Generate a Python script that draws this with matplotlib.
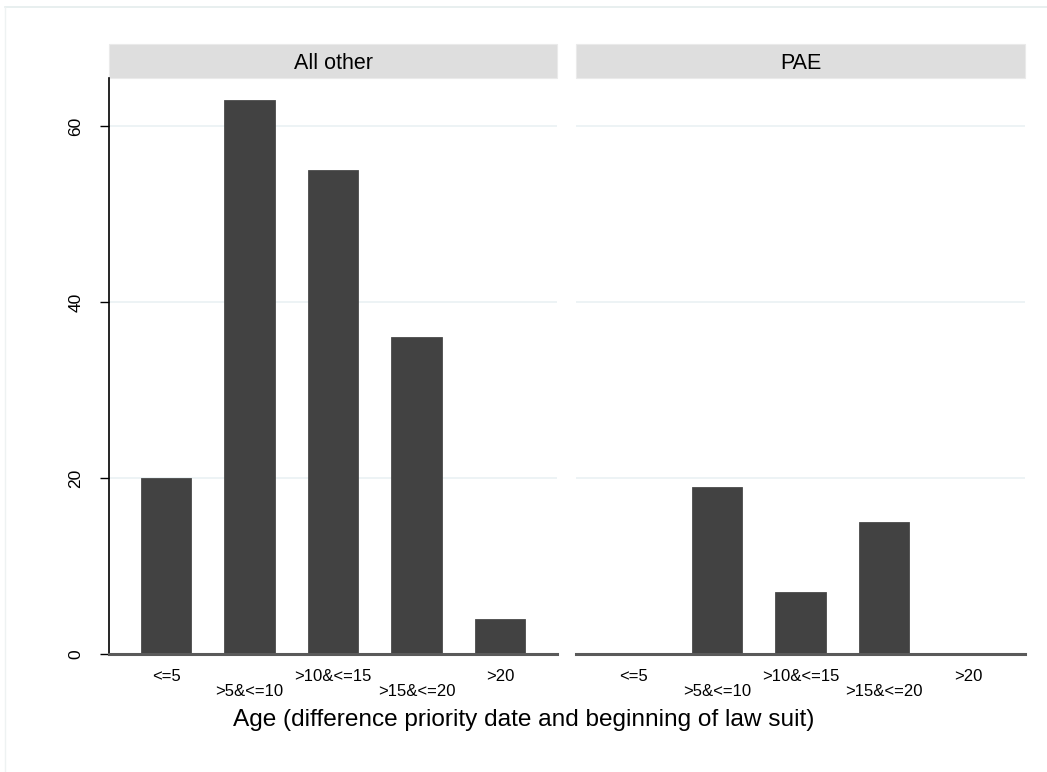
import matplotlib
matplotlib.use("Agg")
import matplotlib.pyplot as plt
from matplotlib.patches import Rectangle
from matplotlib.lines import Line2D

plt.rcParams['font.family'] = ['Liberation Sans', 'DejaVu Sans']

categories = ["<=5", ">5&<=10", ">10&<=15", ">15&<=20", ">20"]
panels = ["All other", "PAE"]
values_all_other = [20, 63, 55, 36, 4]
values_pae = [0, 19, 7, 15, 0]
yticks = [0, 20, 40, 60]
xlabel = "Age (difference priority date and beginning of law suit)"

W, H = 1047, 772
fig = plt.figure(figsize=(W / 100, H / 100), dpi=100)
fig.patch.set_facecolor("white")

def fx(px):
    return px / W

def fy(py):
    return 1 - py / H

top_px, bot_px = 78, 654
ax_boxes = [(109, 557), (576, 1025)]
ymax = (bot_px - top_px) / 8.8

# outer frame lines
fig.add_artist(Line2D([fx(5), fx(1047)], [fy(7), fy(7)], color="#e4ecec", lw=1.2))
fig.add_artist(Line2D([fx(5), fx(5)], [fy(7), fy(772)], color="#eef2f2", lw=1.0))

labels_staggered = [("\n" + c) if i % 2 == 1 else c for i, c in enumerate(categories)]
xs = list(range(len(categories)))

for k, (name, vals) in enumerate(zip(panels, [values_all_other, values_pae])):
    l, r = ax_boxes[k]
    ax = fig.add_axes([fx(l), fy(bot_px), (r - l) / W, (bot_px - top_px) / H])
    ax.set_xlim(-0.683, 4.683)
    ax.set_ylim(0, ymax)
    for y in yticks[1:]:
        ax.axhline(y, color="#eaf1f3", lw=1.2, zorder=0)
    ax.bar(xs, vals, width=0.6, color="#424242", edgecolor="#4a4a4a", lw=0.6, zorder=2)
    for s in ["top", "right"]:
        ax.spines[s].set_visible(False)
    ax.spines["bottom"].set_color("#5a5a5a")
    ax.spines["bottom"].set_linewidth(2.2)
    ax.spines["bottom"].set_zorder(3)
    ax.set_xticks(xs)
    ax.set_xticklabels(labels_staggered, fontsize=12, linespacing=1.0)
    ax.tick_params(axis="x", length=0, pad=10.5, colors="black")
    if k == 0:
        ax.spines["left"].set_color("black")
        ax.spines["left"].set_linewidth(1.2)
        ax.set_yticks(yticks)
        ax.set_yticklabels([str(v) for v in yticks], rotation=90, va="center", fontsize=12.5)
        ax.tick_params(axis="y", length=6.5, width=1.0, pad=12, colors="black")
    else:
        ax.spines["left"].set_visible(False)
        ax.set_yticks([])
    # strip
    strip_h = 34 / (bot_px - top_px)
    ax.add_patch(Rectangle((0, 1), 1, strip_h, transform=ax.transAxes, clip_on=False,
                           facecolor="#dedede", edgecolor="#eaeaea", lw=0.8))
    ax.text(0.5, 1 + strip_h / 2 - 2 / (bot_px - top_px), name, transform=ax.transAxes,
            ha="center", va="center", fontsize=15.5)

fig.text(0.5, fy(720), xlabel, ha="center", va="center", fontsize=17.6)

fig.savefig("out.png", dpi=100)
